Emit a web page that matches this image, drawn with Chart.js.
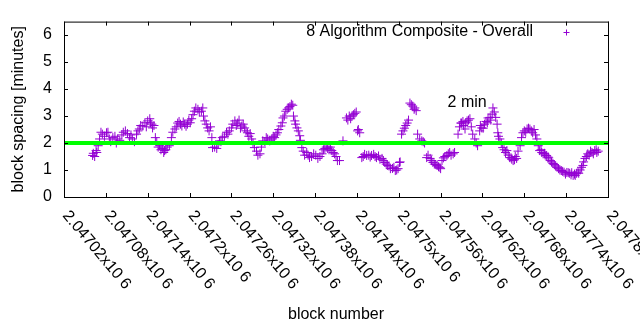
<!DOCTYPE html>
<html>
<head>
<meta charset="utf-8">
<script src="https://cdn.jsdelivr.net/npm/chart.js@4.4.1/dist/chart.umd.min.js"></script>
<style>
  html, body { margin: 0; padding: 0; background: #fff; }
  canvas { display: block; }
</style>
</head>
<body>
<canvas id="spacingChart" width="640" height="330"></canvas>
<script>
// block heights and the measured spacing (minutes) at each
const blocks = [
  2047061, 2047064, 2047067, 2047071, 2047075, 2047081, 2047085, 2047090, 2047097, 2047103,
  2047108, 2047114, 2047118, 2047124, 2047128, 2047133, 2047140, 2047146, 2047147, 2047151,
  2047157, 2047161, 2047164, 2047171, 2047174, 2047179, 2047183, 2047189, 2047193, 2047197,
  2047203, 2047207, 2047212, 2047217, 2047222, 2047226, 2047232, 2047233, 2047239, 2047243,
  2047247, 2047255, 2047260, 2047265, 2047269, 2047275, 2047279, 2047283, 2047289, 2047293,
  2047301, 2047305, 2047312, 2047318, 2047322, 2047326, 2047331, 2047334, 2047338, 2047342,
  2047346, 2047351, 2047354, 2047358, 2047361, 2047368, 2047372, 2047378, 2047384, 2047390,
  2047394, 2047398, 2047404, 2047408, 2047412, 2047415, 2047420, 2047425, 2047433, 2047437,
  2047441, 2047444, 2047447, 2047454, 2047461, 2047468, 2047476, 2047480, 2047484, 2047491,
  2047497, 2047501, 2047504, 2047506, 2047512, 2047516, 2047520, 2047523, 2047527, 2047533,
  2047537, 2047540, 2047545, 2047549, 2047555, 2047559, 2047562, 2047569, 2047573, 2047578,
  2047585, 2047589, 2047590, 2047595, 2047598, 2047602, 2047606, 2047613, 2047619, 2047623,
  2047628, 2047634, 2047635, 2047641, 2047642, 2047645, 2047649, 2047655, 2047659, 2047664,
  2047669, 2047674, 2047678, 2047684, 2047688, 2047692, 2047698, 2047702, 2047707, 2047712,
  2047717, 2047721, 2047727, 2047731, 2047735, 2047741, 2047745, 2047750, 2047755, 2047760,
  2047764, 2047767, 2047771, 2047777, 2047781, 2047784
];
const spacing = [
  1.54, 1.50, 1.65, 2.15, 2.33, 2.38, 2.15, 2.20, 2.15, 2.30,
  2.45, 2.20, 2.15, 2.33, 2.52, 2.63, 2.82, 2.70, 2.56, 2.20,
  1.90, 1.80, 1.72, 1.90, 2.20, 2.52, 2.74, 2.63, 2.70, 2.70,
  2.90, 3.18, 3.25, 3.18, 2.82, 2.56, 2.20, 1.83, 1.80, 2.08,
  2.20, 2.33, 2.56, 2.82, 2.74, 2.63, 2.56, 2.38, 2.15, 1.83,
  1.60, 2.08, 2.15, 2.15, 2.20, 2.38, 2.63, 2.93, 3.18, 3.30,
  3.44, 2.82, 2.56, 2.27, 1.83, 1.65, 1.46, 1.60, 1.43, 1.60,
  1.80, 1.80, 1.72, 1.60, 1.35, 1.35, 2.08, 2.93, 3.00, 3.10,
  2.45, 2.38, 1.46, 1.54, 1.54, 1.46, 1.43, 1.28, 1.17, 1.06,
  1.00, 1.28, 2.33, 2.45, 2.74, 3.48, 3.37, 3.30, 2.33, 2.08,
  2.00, 1.46, 1.43, 1.28, 1.17, 1.10, 1.35, 1.54, 1.65, 1.60,
  2.33, 2.74, 2.74, 2.52, 2.82, 2.90, 2.33, 1.90, 2.56, 2.70,
  2.93, 3.07, 3.30, 2.70, 2.38, 2.15, 1.83, 1.72, 1.46, 1.35,
  1.43, 1.90, 2.38, 2.52, 2.52, 2.38, 2.15, 1.72, 1.60, 1.54,
  1.35, 1.24, 1.10, 1.00, 0.95, 0.91, 0.88, 0.80, 0.88, 1.00,
  1.17, 1.43, 1.60, 1.65, 1.72, 1.65
];
// the in-between blocks
const blocks2 = [
  2047062, 2047066, 2047069, 2047073, 2047078, 2047083, 2047087, 2047093, 2047095, 2047100,
  2047105, 2047111, 2047116, 2047121, 2047126, 2047130, 2047136, 2047138, 2047143, 2047144,
  2047149, 2047153, 2047155, 2047159, 2047163, 2047166, 2047168, 2047176, 2047181, 2047185,
  2047187, 2047191, 2047195, 2047199, 2047201, 2047205, 2047209, 2047214, 2047219, 2047220,
  2047224, 2047228, 2047230, 2047236, 2047241, 2047245, 2047250, 2047253, 2047257, 2047262,
  2047267, 2047271, 2047273, 2047277, 2047281, 2047285, 2047287, 2047291, 2047296, 2047298,
  2047303, 2047308, 2047310, 2047315, 2047320, 2047324, 2047328, 2047333, 2047336, 2047340,
  2047344, 2047348, 2047349, 2047352, 2047356, 2047359, 2047363, 2047365, 2047370, 2047375,
  2047381, 2047387, 2047392, 2047396, 2047400, 2047402, 2047406, 2047410, 2047427, 2047429,
  2047431, 2047435, 2047439, 2047442, 2047449, 2047451, 2047457, 2047459, 2047464, 2047466,
  2047471, 2047473, 2047478, 2047482, 2047486, 2047488, 2047493, 2047495, 2047499, 2047502,
  2047508, 2047510, 2047514, 2047518, 2047522, 2047525, 2047530, 2047535, 2047542, 2047547,
  2047551, 2047553, 2047557, 2047560, 2047564, 2047566, 2047571, 2047575, 2047580, 2047587,
  2047592, 2047593, 2047596, 2047600, 2047604, 2047609, 2047611, 2047616, 2047617, 2047621,
  2047625, 2047627, 2047631, 2047632, 2047637, 2047639, 2047643, 2047647, 2047651, 2047653,
  2047657, 2047661, 2047662, 2047666, 2047667, 2047671, 2047676, 2047680, 2047682, 2047686,
  2047690, 2047694, 2047696, 2047700, 2047704, 2047705, 2047709, 2047710, 2047714, 2047715,
  2047719, 2047723, 2047725, 2047729, 2047733, 2047737, 2047739, 2047743, 2047747, 2047748,
  2047752, 2047753, 2047757, 2047758, 2047762, 2047765, 2047769, 2047773, 2047775, 2047779,
  2047783, 2047786
];
const spacing2 = [
  1.62, 1.72, 1.90, 2.40, 2.25, 2.40, 2.05, 2.25, 2.00, 2.10,
  2.40, 2.35, 2.30, 2.05, 2.45, 2.65, 2.75, 2.60, 2.90, 2.75,
  2.65, 2.05, 1.85, 1.75, 1.65, 1.75, 1.85, 2.40, 2.60, 2.80,
  2.70, 2.78, 2.62, 2.85, 2.75, 3.05, 3.30, 3.15, 3.30, 3.00,
  2.70, 2.45, 2.60, 1.85, 1.95, 2.05, 2.25, 2.40, 2.45, 2.70,
  2.65, 2.85, 2.55, 2.70, 2.45, 2.25, 2.35, 2.00, 1.70, 1.55,
  1.85, 2.05, 2.20, 2.08, 2.25, 2.30, 2.50, 2.75, 3.00, 3.25,
  3.35, 3.40, 3.00, 2.70, 2.45, 2.10, 1.70, 1.55, 1.55, 1.50,
  1.55, 1.50, 1.75, 1.85, 1.75, 1.85, 1.65, 1.50, 2.85, 3.00,
  2.90, 3.05, 3.15, 2.50, 1.50, 1.58, 1.55, 1.48, 1.58, 1.50,
  1.52, 1.40, 1.35, 1.22, 1.15, 1.05, 1.10, 0.98, 1.05, 1.30,
  2.55, 2.65, 2.85, 3.42, 3.25, 3.20, 2.15, 2.05, 1.55, 1.35,
  1.22, 1.20, 1.12, 1.05, 1.45, 1.50, 1.60, 1.55, 1.65, 2.60,
  2.80, 2.65, 2.75, 2.85, 2.60, 2.15, 2.00, 2.45, 2.65, 2.55,
  2.80, 2.75, 2.95, 2.85, 3.15, 2.95, 2.25, 2.00, 1.75, 1.65,
  1.55, 1.45, 1.40, 1.38, 1.50, 1.70, 2.20, 2.45, 2.40, 2.55,
  2.45, 2.50, 2.30, 1.90, 1.75, 1.65, 1.62, 1.55, 1.48, 1.45,
  1.30, 1.20, 1.15, 1.05, 0.98, 0.92, 0.85, 0.90, 0.82, 0.90,
  0.85, 0.80, 0.92, 0.88, 1.10, 1.30, 1.50, 1.55, 1.70, 1.60,
  1.75, 1.70
];
const targetMinutes = 2;
const xTicks = [2047020, 2047080, 2047140, 2047200, 2047260, 2047320, 2047380,
                2047440, 2047500, 2047560, 2047620, 2047680, 2047740, 2047800];
const yTicks = [0, 1, 2, 3, 4, 5, 6];
const seriesName = '8 Algorithm Composite - Overall';
const targetName = '2 min';
const targetNameAt = [2047570, 3.5];

const FONT = '"Liberation Sans", Arial, sans-serif';
const PURPLE = '#9400d3';
const GREEN = '#00ff00';

function xTickText(v) {
  return (v / 1e6).toString() + 'x10 6';
}

function drawCross(ctx, x, y, r) {
  ctx.beginPath();
  ctx.moveTo(x - r, y); ctx.lineTo(x + r, y);
  ctx.moveTo(x, y - r); ctx.lineTo(x, y + r);
  ctx.stroke();
}

// border, mirrored ticks, rotated x labels, key and titles
const gnuFrame = {
  id: 'gnuFrame',
  afterDraw(chart) {
    const { ctx, chartArea: a, scales: { x, y } } = chart;
    const tl = 4;
    ctx.save();
    ctx.strokeStyle = '#000';
    ctx.lineWidth = 1;
    ctx.strokeRect(a.left + 0.5, a.top + 0.5, a.right - a.left, a.bottom - a.top);
    ctx.beginPath();
    xTicks.forEach(v => {
      const px = Math.round(x.getPixelForValue(v)) + 0.5;
      ctx.moveTo(px, a.bottom); ctx.lineTo(px, a.bottom - tl);
      ctx.moveTo(px, a.top); ctx.lineTo(px, a.top + tl);
    });
    yTicks.forEach(v => {
      const py = Math.round(y.getPixelForValue(v)) + 0.5;
      ctx.moveTo(a.left, py); ctx.lineTo(a.left + tl, py);
      ctx.moveTo(a.right, py); ctx.lineTo(a.right - tl, py);
    });
    ctx.stroke();

    ctx.fillStyle = '#000';
    ctx.font = '16px ' + FONT;
    ctx.textBaseline = 'middle';
    ctx.textAlign = 'left';
    xTicks.forEach(v => {
      const px = x.getPixelForValue(v);
      ctx.save();
      ctx.translate(px + 1.5, a.bottom + 16);
      ctx.rotate(50 * Math.PI / 180);
      ctx.fillText(xTickText(v), 0, 0);
      ctx.restore();
    });

    // axis titles
    ctx.textAlign = 'center';
    ctx.fillText('block number', (a.left + a.right) / 2, 315);
    ctx.save();
    ctx.translate(19, (a.top + a.bottom) / 2);
    ctx.rotate(-Math.PI / 2);
    ctx.fillText('block spacing [minutes]', 0, 0);
    ctx.restore();

    // key
    ctx.textAlign = 'right';
    ctx.fillText(seriesName, 533, 32);
    ctx.strokeStyle = PURPLE;
    drawCross(ctx, 566.5, 32.5, 3);

    // label for the 2 minute target
    ctx.textAlign = 'left';
    ctx.fillText(targetName, x.getPixelForValue(targetNameAt[0]), y.getPixelForValue(targetNameAt[1]));
    ctx.restore();
  }
};

const points = blocks.map((b, i) => ({ x: b, y: spacing[i] }))
  .concat(blocks2.map((b, i) => ({ x: b, y: spacing2[i] })));

new Chart(document.getElementById('spacingChart'), {
  type: 'scatter',
  data: {
    datasets: [
      {
        label: targetName,
        data: [{ x: xTicks[0], y: targetMinutes }, { x: xTicks[xTicks.length - 1], y: targetMinutes }],
        showLine: true,
        borderColor: GREEN,
        borderWidth: 4,
        pointRadius: 0,
        order: 0
      },
      {
        label: seriesName,
        data: points,
        pointStyle: 'cross',
        pointRadius: 4.5,
        borderColor: PURPLE,
        backgroundColor: PURPLE,
        borderWidth: 1,
        order: 1
      }
    ]
  },
  options: {
    responsive: false,
    animation: false,
    devicePixelRatio: 1,
    layout: { padding: { left: 0, right: 32, top: 19, bottom: 133 } },
    plugins: { legend: { display: false }, tooltip: { enabled: false } },
    scales: {
      x: {
        type: 'linear',
        display: false,
        min: xTicks[0],
        max: xTicks[xTicks.length - 1]
      },
      y: {
        min: 0,
        max: 6.5,
        afterBuildTicks: s => { s.ticks = yTicks.map(v => ({ value: v })); },
        afterFit: s => { s.width = 64; },
        grid: { display: false, drawTicks: false },
        border: { display: false },
        ticks: { padding: 12, color: '#000', font: { family: FONT, size: 16 } }
      }
    }
  },
  plugins: [gnuFrame]
});
</script>
</body>
</html>
